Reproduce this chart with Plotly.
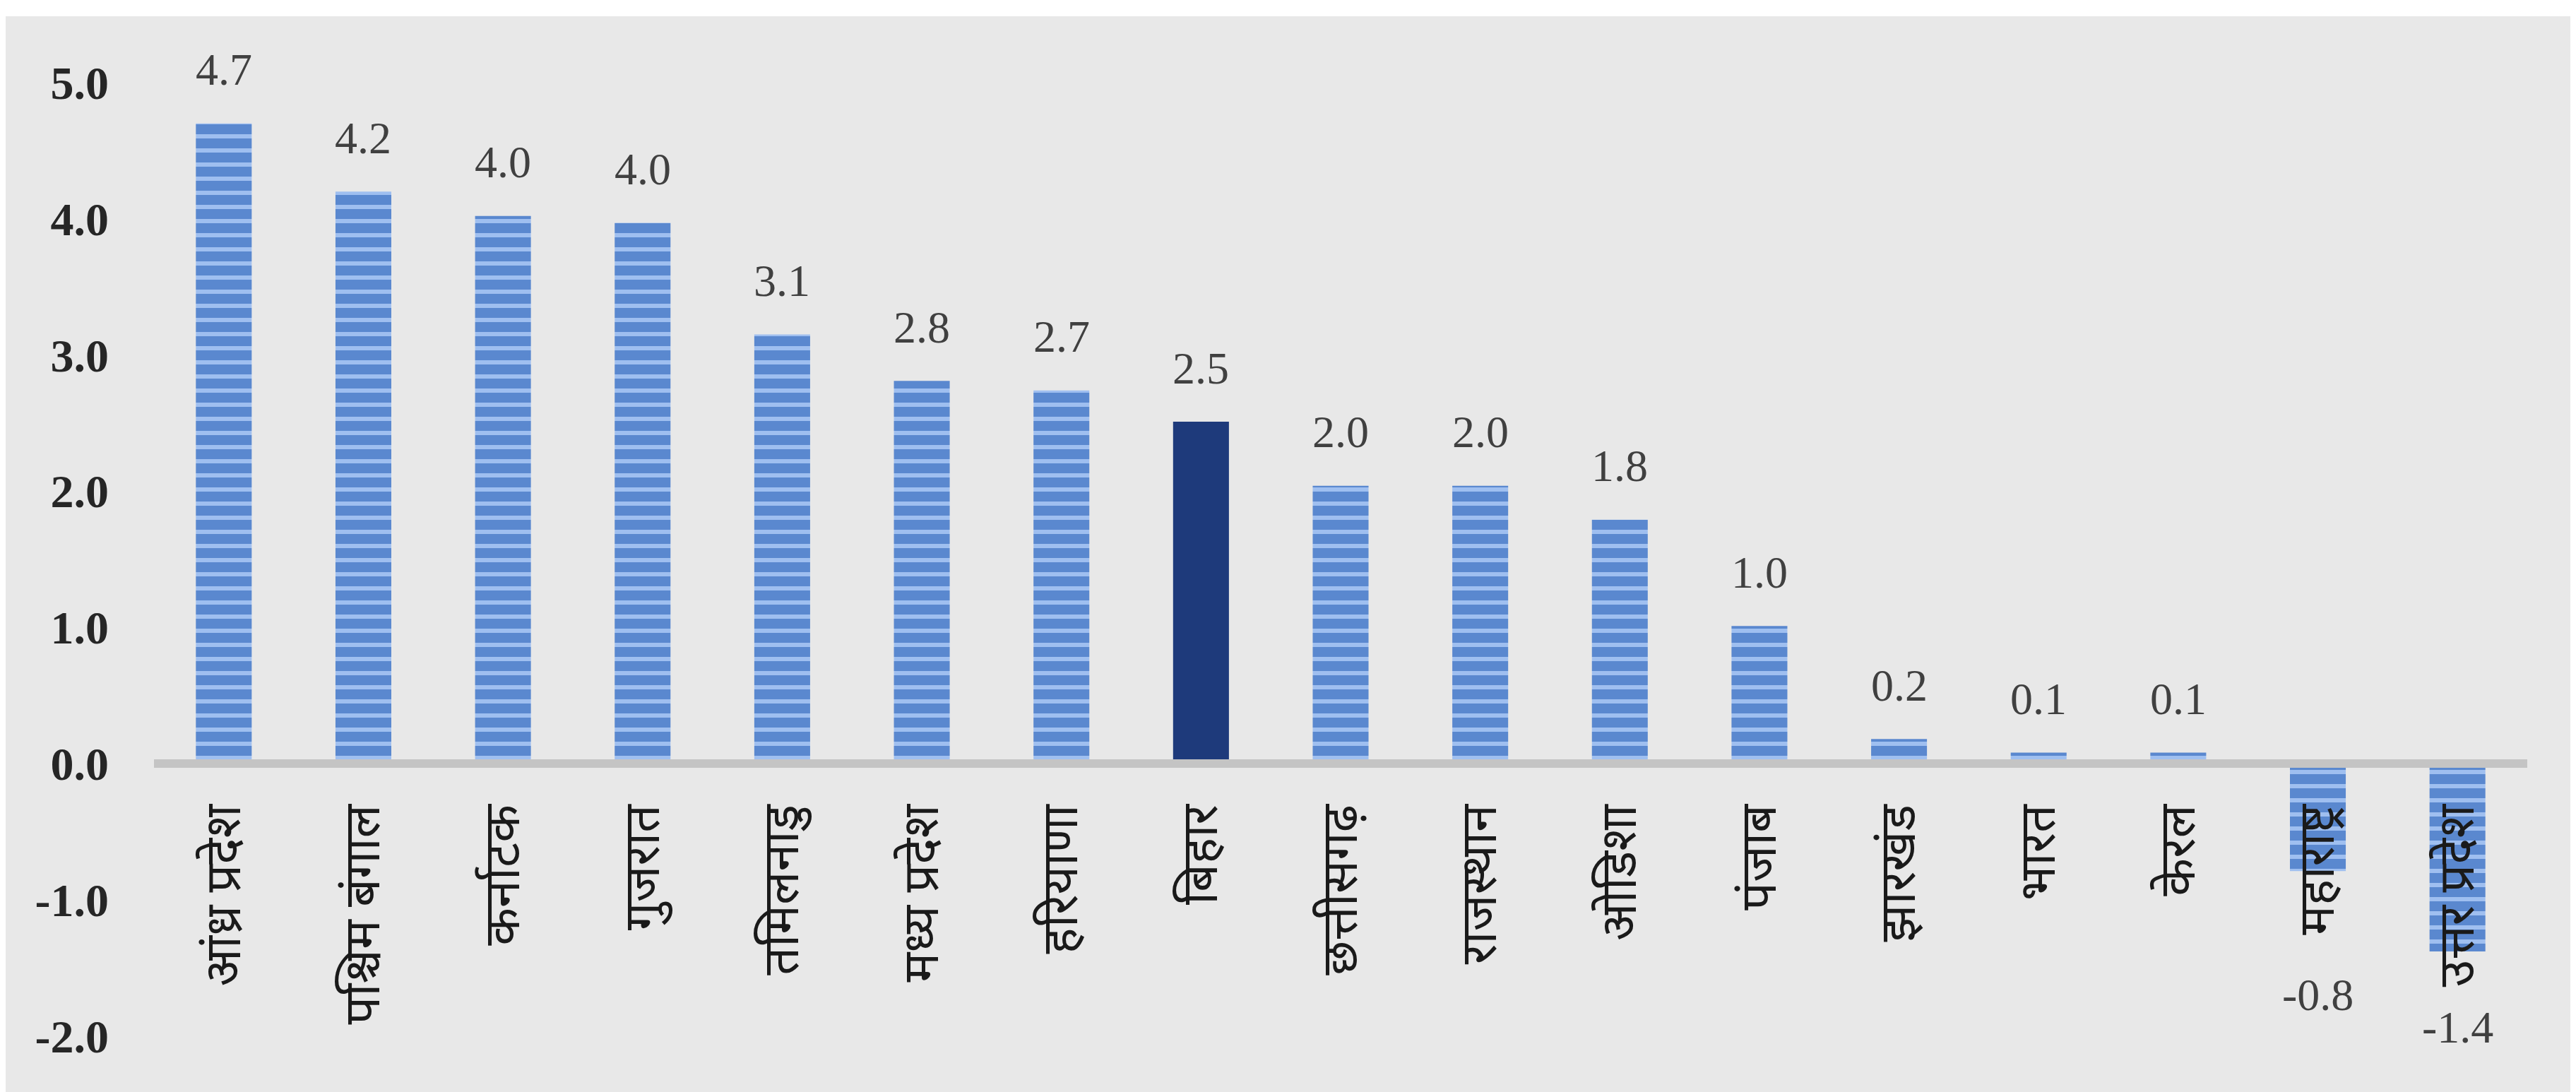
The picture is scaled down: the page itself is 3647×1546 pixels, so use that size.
import plotly.graph_objects as go

categories = ["आंध्र प्रदेश", "पश्चिम बंगाल", "कर्नाटक", "गुजरात", "तमिलनाडु",
              "मध्य प्रदेश", "हरियाणा", "बिहार", "छत्तीसगढ़", "राजस्थान",
              "ओडिशा", "पंजाब", "झारखंड", "भारत", "केरल", "महाराष्ट्र", "उत्तर प्रदेश"]
values = [4.7, 4.2, 4.02, 3.97, 3.15, 2.81, 2.74, 2.51, 2.04, 2.04,
          1.79, 1.01, 0.18, 0.08, 0.08, -0.79, -1.38]
labels = ["4.7", "4.2", "4.0", "4.0", "3.1", "2.8", "2.7", "2.5", "2.0", "2.0",
          "1.8", "1.0", "0.2", "0.1", "0.1", "-0.8", "-1.4"]
highlight = "बिहार"
y_ticks = [-2, -1, 0, 1, 2, 3, 4, 5]
y_ticktext = ["-2.0", "-1.0", "0.0", "1.0", "2.0", "3.0", "4.0", "5.0"]

W, H = 3647, 1546
ML, MR, MT, MB = 210, 77, 15, 0
ymin, ymax = -2.453, 5.487
zero_pos = (0 - ymin) / (ymax - ymin)

BASE = "#5a88cf"
STRIPE = "#9fbff0"
DARK = "#1e3a7b"
GRAY_BG = "#e8e8e8"
SERIF = "Liberation Serif, Times New Roman, serif"
DEVA = "Noto Sans Devanagari, Noto Serif Devanagari, Lohit Devanagari, Mangal, sans-serif"

others_x = [c for c in categories if c != highlight]
others_y = [v for c, v in zip(categories, values) if c != highlight]
hl_x = [c for c in categories if c == highlight]
hl_y = [v for c, v in zip(categories, values) if c == highlight]

fig = go.Figure()
fig.add_trace(go.Bar(
    x=others_x, y=others_y,
    marker=dict(color=BASE, line=dict(width=0),
                pattern=dict(shape="-", fgcolor=STRIPE, bgcolor=BASE,
                             size=20, solidity=0.3, fillmode="replace")),
    hoverinfo="skip",
))
fig.add_trace(go.Bar(
    x=hl_x, y=hl_y,
    marker=dict(color=DARK, line=dict(width=0)),
    hoverinfo="skip",
))

neg_shift = {"महाराष्ट्र": -175, "उत्तर प्रदेश": -107}
for c, v, t in zip(categories, values, labels):
    if v >= 0:
        ys = 76
    else:
        ys = neg_shift.get(c, -80)
    fig.add_annotation(x=c, y=v, text=t, showarrow=False, xref="x", yref="y",
                       yanchor="middle", yshift=ys,
                       font=dict(family=SERIF, size=64, color="#404040"))

fig.update_layout(
    width=W, height=H,
    margin=dict(l=ML, r=MR, t=MT, b=MB),
    paper_bgcolor=GRAY_BG, plot_bgcolor=GRAY_BG,
    barmode="overlay", bargap=0.6, showlegend=False,
    shapes=[dict(type="rect", xref="paper", yref="paper", x0=-0.1, x1=1.1,
                 y0=1, y1=1 + 20 / (H - MT - MB), fillcolor="white", line=dict(width=0),
                 layer="above")],
)
fig.update_xaxes(
    type="category", anchor="free", position=zero_pos,
    categoryorder="array", categoryarray=categories,
    showline=True, linecolor="#c4c4c4", linewidth=12,
    ticks="", tickangle=-90, ticklabelstandoff=24,
    tickfont=dict(family=DEVA, size=70, color="#1a1a1a"),
    showgrid=False, zeroline=False,
)
fig.update_yaxes(
    range=[ymin, ymax], tickvals=y_ticks, ticktext=y_ticktext,
    showgrid=False, zeroline=False, showline=False, ticks="",
    ticklabelstandoff=63,
    tickfont=dict(family=SERIF, size=66, color="#262626", weight="bold"),
)

fig.write_html("out.html")
